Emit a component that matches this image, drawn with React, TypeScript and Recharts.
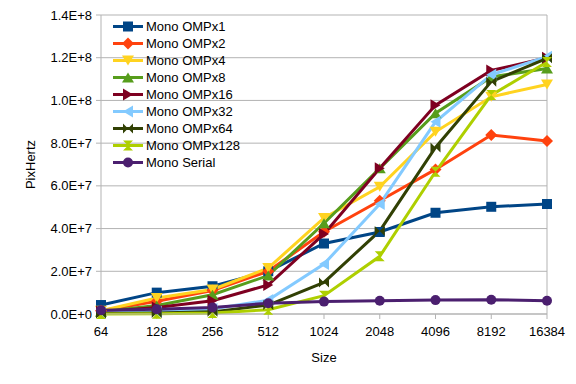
import { LineChart, Line, XAxis, YAxis, CartesianGrid, ReferenceLine } from 'recharts';

const sizes = ['64', '128', '256', '512', '1024', '2048', '4096', '8192', '16384'];

const ompx1 = [4.2e6, 1.0e7, 1.3e7, 2.0e7, 3.3e7, 3.84e7, 4.74e7, 5.02e7, 5.15e7];
const ompx2 = [1.5e6, 6.0e6, 1.1e7, 2.0e7, 3.85e7, 5.3e7, 6.77e7, 8.38e7, 8.1e7];
const ompx4 = [1.5e6, 7.5e6, 1.15e7, 2.15e7, 4.5e7, 5.96e7, 8.53e7, 1.017e8, 1.075e8];
const ompx8 = [1.0e6, 4.0e6, 9.0e6, 1.8e7, 4.25e7, 6.82e7, 9.4e7, 1.11e8, 1.15e8];
const ompx16 = [1.0e6, 3.0e6, 6.2e6, 1.36e7, 3.75e7, 6.82e7, 9.78e7, 1.14e8, 1.2e8];
const ompx32 = [5.0e5, 1.0e6, 2.3e6, 6.5e6, 2.34e7, 5.15e7, 9.0e7, 1.12e8, 1.205e8];
const ompx64 = [2.0e5, 5.0e5, 1.0e6, 4.2e6, 1.48e7, 3.89e7, 7.8e7, 1.088e8, 1.197e8];
const ompx128 = [0, 1.0e5, 5.0e5, 2.0e6, 8.6e6, 2.7e7, 6.66e7, 1.025e8, 1.18e8];
const serial = [1.8e6, 2.2e6, 3.1e6, 5.0e6, 5.8e6, 6.2e6, 6.5e6, 6.7e6, 6.2e6];

const yTicks = [0, 2e7, 4e7, 6e7, 8e7, 1e8, 1.2e8, 1.4e8];

const series = [
  { key: 'ompx1', name: 'Mono OMPx1', values: ompx1, color: '#004586', shape: 'square' },
  { key: 'ompx2', name: 'Mono OMPx2', values: ompx2, color: '#ff420e', shape: 'diamond' },
  { key: 'ompx4', name: 'Mono OMPx4', values: ompx4, color: '#ffd320', shape: 'down' },
  { key: 'ompx8', name: 'Mono OMPx8', values: ompx8, color: '#579d1c', shape: 'up' },
  { key: 'ompx16', name: 'Mono OMPx16', values: ompx16, color: '#7e0021', shape: 'right' },
  { key: 'ompx32', name: 'Mono OMPx32', values: ompx32, color: '#83caff', shape: 'left' },
  { key: 'ompx64', name: 'Mono OMPx64', values: ompx64, color: '#314004', shape: 'bowtie' },
  { key: 'ompx128', name: 'Mono OMPx128', values: ompx128, color: '#aecf00', shape: 'hourglass' },
  { key: 'serial', name: 'Mono Serial', values: serial, color: '#4b1f6f', shape: 'circle' },
];

const data = sizes.map((s, i) => {
  const row: any = { size: s };
  series.forEach((sr) => {
    row[sr.key] = sr.values[i];
  });
  return row;
});

const font = '"Liberation Sans", Arial, sans-serif';

function Marker({ shape, cx, cy, color }: { shape: string; cx: number; cy: number; color: string }) {
  const s = 5;
  switch (shape) {
    case 'square':
      return <rect x={cx - s} y={cy - s} width={s * 2} height={s * 2} fill={color} />;
    case 'diamond':
      return <polygon points={`${cx},${cy - s - 1} ${cx + s + 1},${cy} ${cx},${cy + s + 1} ${cx - s - 1},${cy}`} fill={color} />;
    case 'down':
      return <polygon points={`${cx - s - 1},${cy - s} ${cx + s + 1},${cy - s} ${cx},${cy + s}`} fill={color} />;
    case 'up':
      return <polygon points={`${cx - s - 1},${cy + s} ${cx + s + 1},${cy + s} ${cx},${cy - s}`} fill={color} />;
    case 'right':
      return <polygon points={`${cx - s},${cy - s - 1} ${cx - s},${cy + s + 1} ${cx + s},${cy}`} fill={color} />;
    case 'left':
      return <polygon points={`${cx + s},${cy - s - 1} ${cx + s},${cy + s + 1} ${cx - s},${cy}`} fill={color} />;
    case 'bowtie':
      return <polygon points={`${cx - s},${cy - s} ${cx - s},${cy + s} ${cx + s},${cy - s} ${cx + s},${cy + s}`} fill={color} />;
    case 'hourglass':
      return <polygon points={`${cx - s},${cy - s} ${cx + s},${cy - s} ${cx - s},${cy + s} ${cx + s},${cy + s}`} fill={color} />;
    default:
      return <circle cx={cx} cy={cy} r={s} fill={color} />;
  }
}

const makeDot = (shape: string, color: string) => (props: any) => {
  const { cx, cy, index } = props;
  if (cx == null || cy == null) return <g key={index} />;
  return (
    <g key={`${shape}-${index}`}>
      <Marker shape={shape} cx={cx} cy={cy} color={color} />
    </g>
  );
};

const fmt = (v: number) => v.toExponential(1).toUpperCase();

export default function App() {
  return (
    <div style={{ position: 'absolute', left: 0, top: 0, width: 576, height: 384, background: '#fff', fontFamily: font }}>
      <LineChart width={576} height={384} data={data} margin={{ top: 15, right: 29, bottom: 20, left: 0 }}>
        <CartesianGrid vertical={false} stroke="#b3b3b3" strokeWidth={1} />
        <XAxis
          dataKey="size"
          stroke="#b3b3b3"
          tickSize={5}
          tickMargin={8}
          height={50}
          tick={{ fill: '#000', fontSize: 13, fontFamily: font }}
          interval={0}
          label={{ value: 'Size', position: 'insideBottom', offset: 2, fill: '#000', fontSize: 13, fontFamily: font }}
        />
        <YAxis
          width={101}
          domain={[0, 1.4e8]}
          ticks={yTicks}
          tickFormatter={fmt}
          stroke="#b3b3b3"
          tickSize={5}
          tickMargin={4}
          tick={{ fill: '#000', fontSize: 13, fontFamily: font }}
          label={{ value: 'PixHertz', angle: -90, position: 'center', dx: -20, fill: '#000', fontSize: 13, fontFamily: font }}
        />
        <ReferenceLine x="16384" stroke="#b3b3b3" />
        {series.map((sr) => (
          <Line
            key={sr.key}
            dataKey={sr.key}
            name={sr.name}
            stroke={sr.color}
            strokeWidth={3}
            dot={makeDot(sr.shape, sr.color)}
            activeDot={false}
            isAnimationActive={false}
          />
        ))}
      </LineChart>
      <div style={{ position: 'absolute', left: 112, top: 17.5 }}>
        {series.map((sr) => (
          <div key={sr.key} style={{ height: 17, display: 'flex', alignItems: 'center', fontSize: 13, color: '#000', whiteSpace: 'nowrap' }}>
            <svg width={34} height={17} style={{ display: 'block' }}>
              <line x1={1} y1={8.5} x2={31} y2={8.5} stroke={sr.color} strokeWidth={3} />
              <Marker shape={sr.shape} cx={16} cy={8.5} color={sr.color} />
            </svg>
            <span>{sr.name}</span>
          </div>
        ))}
      </div>
    </div>
  );
}
